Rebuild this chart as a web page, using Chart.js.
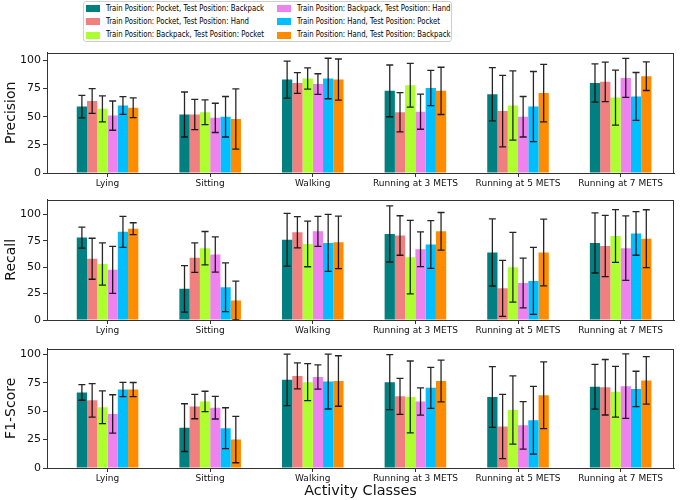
<!DOCTYPE html>
<html>
<head>
<meta charset="utf-8">
<script src="https://cdn.jsdelivr.net/npm/chart.js@4.4.0/dist/chart.umd.min.js"></script>
<style>
  body { margin: 0; background: #fff; }
  #wrap { position: relative; width: 685px; height: 500px; font-family: "DejaVu Sans", sans-serif; }
  canvas { position: absolute; left: 0; }
  #legend { position: absolute; left: 83px; top: 1px; width: 369px; height: 41px;
            border: 1px solid #cfcfcf; border-radius: 3px; box-sizing: border-box; }
  .item { position: absolute; font-size: 8px; line-height: 10px; color: #000; white-space: nowrap;
          transform-origin: left center; }
  .sw { position: absolute; width: 14px; height: 7px; }
</style>
</head>
<body>
<div id="wrap">
  <div id="legend"></div>
  <canvas id="precision" width="685" height="150" style="top:44px"></canvas>
  <canvas id="recall" width="685" height="150" style="top:191px"></canvas>
  <canvas id="f1" width="685" height="160" style="top:340px"></canvas>
</div>
<script>
const categories = ['Lying', 'Sitting', 'Walking', 'Running at 3 METS', 'Running at 5 METS', 'Running at 7 METS'];
const seriesNames = [
  'Train Position: Pocket, Test Position: Backpack',
  'Train Position: Pocket, Test Position: Hand',
  'Train Position: Backpack, Test Position: Pocket',
  'Train Position: Backpack, Test Position: Hand',
  'Train Position: Hand, Test Position: Pocket',
  'Train Position: Hand, Test Position: Backpack'
];
const colors = ['#008080', '#f08080', '#adff2f', '#ee82ee', '#00bfff', '#ff8c00'];
const yTicks = [0, 25, 50, 75, 100];

// one row per series, one value per activity class
const precisionMean = [
  [59, 52, 83, 73, 70, 80],
  [64, 52, 80, 54, 55, 81],
  [57, 54, 84, 78, 60, 67],
  [51, 49, 79, 54.5, 50, 84.5],
  [60, 50, 84, 75.5, 59, 68],
  [58, 48, 83, 73, 71, 86]
];
const precisionErr = [
  [10, 20, 16.5, 23, 23.6, 17],
  [11, 13.4, 9.2, 17.5, 31.8, 17.5],
  [11.6, 11, 9.5, 19.5, 30.8, 24.5],
  [13, 13, 9.2, 15.6, 18, 17.3],
  [7.9, 18, 18, 15.7, 31.2, 21.3],
  [8.7, 26.7, 18.3, 21, 25.5, 12.7]
];
const recallMean = [
  [78, 29.5, 76, 81.5, 64, 73],
  [58, 59, 83, 80, 30, 70],
  [53, 68, 72, 59.5, 50, 79.5],
  [47.5, 62, 84, 67, 35, 68],
  [83.5, 31, 73, 71.5, 37, 82],
  [86.5, 18.5, 73.5, 84, 64, 77]
];
const recallErr = [
  [10, 22, 25, 26.6, 31.8, 28.5],
  [19.4, 14, 14.8, 18.7, 26.5, 29],
  [20, 15.8, 21.6, 34.8, 33, 25],
  [22.3, 16.7, 14.2, 16.5, 23.5, 30.5],
  [14.7, 23, 27, 22.6, 31.7, 20.7],
  [5.6, 18.3, 24.8, 17.8, 31.6, 27.4]
];
const f1Mean = [
  [66.5, 35.5, 77.5, 75.5, 62.5, 71.5],
  [59.5, 54, 81, 63, 36.5, 71],
  [53.5, 58.5, 75.5, 62.5, 51, 67],
  [47.5, 53, 80, 58.5, 37.5, 72],
  [69, 35, 76, 70.5, 42, 69.5],
  [69, 25, 76.5, 76.5, 64, 77]
];
const f1Err = [
  [6.9, 21, 22.7, 24.2, 26.7, 19.7],
  [14.7, 10.7, 11.4, 15.9, 28.3, 24.4],
  [14.4, 9, 16.2, 31.6, 30, 22.3],
  [16.9, 9.9, 10.7, 12, 20.9, 28.3],
  [6.3, 18, 24.1, 18, 29.8, 15.6],
  [6.2, 20.4, 22.2, 18.3, 29.4, 20.9]
];

const FONT = '"DejaVu Sans", sans-serif';
const AXIS = '#333';

// legend, two columns filled top to bottom like matplotlib ncol=2
const legendEl = document.getElementById('legend');
const labels = seriesNames.map((name, i) => {
  const col = Math.floor(i / 3), row = i % 3;
  const sw = document.createElement('div');
  sw.className = 'sw';
  sw.style.background = colors[i];
  sw.style.left = (2 + col * 191) + 'px';
  sw.style.top = (3 + row * 13.3) + 'px';
  legendEl.appendChild(sw);
  const t = document.createElement('div');
  t.className = 'item';
  t.textContent = name;
  t.style.left = (22 + col * 191) + 'px';
  t.style.top = (1.5 + row * 13.3) + 'px';
  legendEl.appendChild(t);
  return t;
});
// squeeze text so the first label is as wide as in the picture (about 158px)
const squeeze = 158 / labels[0].getBoundingClientRect().width;
labels.forEach(t => { t.style.transform = 'scaleX(' + squeeze + ')'; });

const errorBars = {
  id: 'errorBars',
  afterDatasetsDraw(chart) {
    const ctx = chart.ctx, y = chart.scales.y, a = chart.chartArea;
    ctx.save();
    ctx.beginPath();
    ctx.rect(a.left, a.top, a.right - a.left, a.bottom - a.top);
    ctx.clip();
    ctx.strokeStyle = 'rgba(0,0,0,0.85)';
    ctx.lineWidth = 1.3;
    chart.data.datasets.forEach((ds, i) => {
      chart.getDatasetMeta(i).data.forEach((bar, j) => {
        const v = ds.data[j].y, e = ds.errors[j];
        const top = y.getPixelForValue(v + e), bot = y.getPixelForValue(v - e);
        ctx.beginPath();
        ctx.moveTo(bar.x, top); ctx.lineTo(bar.x, bot);
        ctx.moveTo(bar.x - 3.5, top); ctx.lineTo(bar.x + 3.5, top);
        ctx.moveTo(bar.x - 3.5, bot); ctx.lineTo(bar.x + 3.5, bot);
        ctx.stroke();
      });
    });
    ctx.restore();
  }
};

const frame = {
  id: 'frame',
  afterDraw(chart) {
    const ctx = chart.ctx, a = chart.chartArea;
    ctx.save();
    ctx.strokeStyle = AXIS;
    ctx.lineWidth = 1;
    ctx.strokeRect(Math.round(a.left) + 0.5, Math.round(a.top) + 0.5,
      Math.round(a.right - a.left) - 1, Math.round(a.bottom - a.top));
    ctx.restore();
  }
};

function makePanel(id, means, errs, yMax, yTitle, xAxisHeight, xTitle) {
  new Chart(document.getElementById(id), {
    type: 'bar',
    data: {
      datasets: means.map((row, i) => ({
        label: seriesNames[i],
        backgroundColor: colors[i],
        data: row.map((v, k) => ({x: k, y: v})),
        errors: errs[i]
      }))
    },
    options: {
      responsive: false,
      animation: false,
      categoryPercentage: 0.6,
      barPercentage: 1,
      layout: {padding: {top: 6, right: 11, left: 0, bottom: 0}},
      plugins: {legend: {display: false}, tooltip: {enabled: false}},
      scales: {
        x: {
          type: 'linear',
          min: -0.59,
          max: 5.52,
          offset: false,
          grid: {offset: false, drawOnChartArea: false, tickLength: 4, tickColor: AXIS},
          border: {color: AXIS},
          ticks: {
            stepSize: 1, includeBounds: false, autoSkip: false, maxRotation: 0, padding: 1,
            color: '#111', font: {family: FONT, size: 9},
            callback: v => categories[v]
          },
          title: {display: !!xTitle, text: xTitle || '', color: '#111',
                  font: {family: FONT, size: 14.4}, padding: {top: 0, bottom: 0}},
          afterFit: s => { s.height = xAxisHeight; }
        },
        y: {
          min: 0,
          max: yMax,
          grid: {drawOnChartArea: false, tickLength: 4, tickColor: AXIS},
          border: {color: AXIS},
          ticks: {
            stepSize: 25, includeBounds: false, padding: 2,
            color: '#111', font: {family: FONT, size: 11},
            callback: v => yTicks.includes(v) ? v : ''
          },
          title: {display: true, text: yTitle, color: '#111',
                  font: {family: FONT, size: 14}, padding: {top: 3, bottom: 0}},
          afterFit: s => { s.width = 47; }
        }
      }
    },
    plugins: [errorBars, frame]
  });
}

makePanel('precision', precisionMean, precisionErr, 107, 'Precision', 21);
makePanel('recall', recallMean, recallErr, 114, 'Recall', 21);
makePanel('f1', f1Mean, f1Err, 105, 'F1-Score', 32, 'Activity Classes');
</script>
</body>
</html>
